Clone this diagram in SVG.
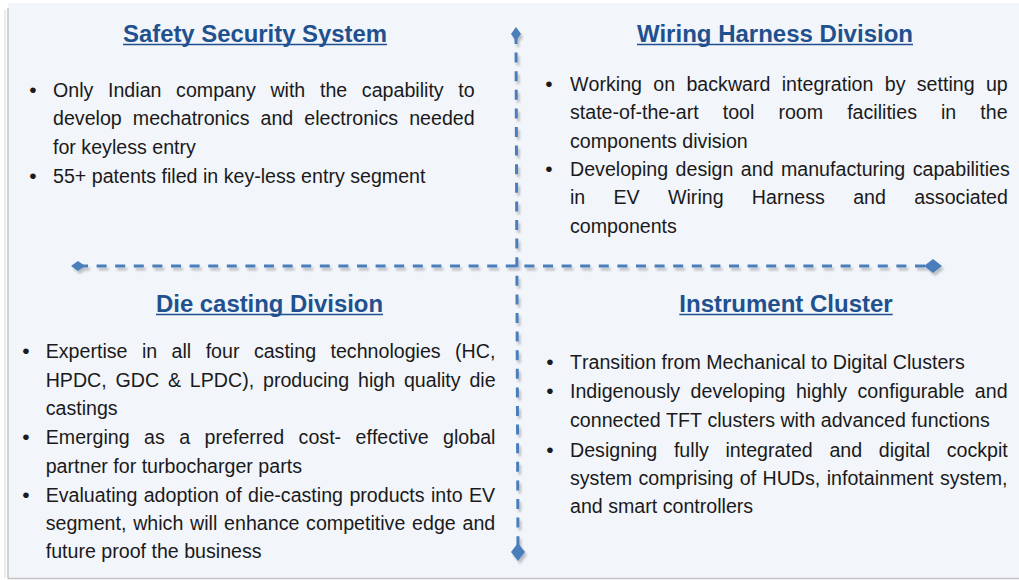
<svg xmlns="http://www.w3.org/2000/svg" width="1019" height="580" viewBox="0 0 1019 580">
<style>
.bg{fill:#f2f5fa}
.edge{stroke:#c3c3c3;stroke-width:1.5;fill:none}
.h{font-family:"Liberation Sans",Arial,sans-serif;font-weight:bold;font-size:23px;fill:#21508e;text-anchor:middle}
.ul{stroke:#21508e;stroke-width:1.6}
.t{font-family:"Liberation Sans",Arial,sans-serif;font-size:21px;fill:#1a1a1a;font-kerning:none}
.b{font-family:"Liberation Sans",Arial,sans-serif;font-size:21px;fill:#1a1a1a;text-anchor:middle}
.dash{stroke:#4a7ebb;stroke-width:3;stroke-dasharray:10 8.6;fill:none}
</style>
<defs>
<filter id="sh" x="-5%" y="-5%" width="110%" height="110%">
<feDropShadow dx="2" dy="3" stdDeviation="1" flood-color="#000" flood-opacity="0.22"/>
</filter>
<marker id="dS" markerUnits="userSpaceOnUse" viewBox="-7 -5 14 10" markerWidth="14" markerHeight="10" refX="0" refY="0" orient="auto">
<path d="M-7 0L0 -5L7 0L0 5Z" fill="#4a7ebb"/>
</marker>
<marker id="dL" markerUnits="userSpaceOnUse" viewBox="-9 -7 18 14" markerWidth="18" markerHeight="14" refX="0" refY="0" orient="auto">
<path d="M-9 0L0 -7L9 0L0 7Z" fill="#4a7ebb"/>
</marker>
</defs>
<rect class="bg" x="8" y="3" width="1011" height="576"/>
<line x1="5" y1="10" x2="5" y2="578" stroke="#e4e4e4" stroke-width="1.5"/>
<line class="edge" x1="8" y1="8" x2="8" y2="578.5"/>
<line class="edge" x1="8" y1="578.5" x2="1019" y2="578.5"/>

<g id="connectors" filter="url(#sh)">
<line class="dash" x1="78" y1="266" x2="933" y2="266" marker-start="url(#dS)" marker-end="url(#dL)"/>
<line class="dash" x1="516" y1="34" x2="518" y2="552" marker-start="url(#dS)" marker-end="url(#dL)"/>
</g>

<g id="safety-security-system">
<text class="h" x="255" y="42" textLength="264" lengthAdjust="spacingAndGlyphs">Safety Security System</text>
<line class="ul" x1="123" y1="44.5" x2="387" y2="44.5"/>
<text class="b" x="33" y="96.5">•</text>
<text class="t" transform="translate(53 96.5) scale(0.935 1)" word-spacing="9.85">Only Indian company with the capability to</text>
<text class="t" transform="translate(53 125) scale(0.935 1)" word-spacing="6">develop mechatronics and electronics needed</text>
<text class="t" transform="translate(53 153.5) scale(0.935 1)">for keyless entry</text>
<text class="b" x="33" y="182.5">•</text>
<text class="t" transform="translate(53 182.5) scale(0.935 1)">55+ patents filed in key-less entry segment</text>
</g>

<g id="wiring-harness-division">
<text class="h" x="775" y="42" textLength="276" lengthAdjust="spacingAndGlyphs">Wiring Harness Division</text>
<line class="ul" x1="637" y1="44.5" x2="913" y2="44.5"/>
<text class="b" x="549" y="90.5">•</text>
<text class="t" transform="translate(570 90.5) scale(0.935 1)" word-spacing="6.3">Working on backward integration by setting up</text>
<text class="t" transform="translate(570 119) scale(0.935 1)" word-spacing="19.9">state-of-the-art tool room facilities in the</text>
<text class="t" transform="translate(570 147.6) scale(0.935 1)">components division</text>
<text class="b" x="549" y="176">•</text>
<text class="t" transform="translate(570 176) scale(0.935 1)" word-spacing="2.1">Developing design and manufacturing capabilities</text>
<text class="t" transform="translate(570 204.3) scale(0.935 1)" word-spacing="24.4">in EV Wiring Harness and associated</text>
<text class="t" transform="translate(570 232.7) scale(0.935 1)">components</text>
</g>

<g id="die-casting-division">
<text class="h" x="269.5" y="311.5" textLength="227" lengthAdjust="spacingAndGlyphs">Die casting Division</text>
<line class="ul" x1="156" y1="314.5" x2="383" y2="314.5"/>
<text class="b" x="26" y="358.3">•</text>
<text class="t" transform="translate(45.7 358.3) scale(0.935 1)" word-spacing="9.6">Expertise in all four casting technologies (HC,</text>
<text class="t" transform="translate(45.7 386.7) scale(0.935 1)" word-spacing="3.6">HPDC, GDC &amp; LPDC), producing high quality die</text>
<text class="t" transform="translate(45.7 415) scale(0.935 1)">castings</text>
<text class="b" x="26" y="444">•</text>
<text class="t" transform="translate(45.7 444) scale(0.935 1)" word-spacing="9.6">Emerging as a preferred cost- effective global</text>
<text class="t" transform="translate(45.7 472.7) scale(0.935 1)">partner for turbocharger parts</text>
<text class="b" x="26" y="501.7">•</text>
<text class="t" transform="translate(45.7 501.7) scale(0.935 1)" word-spacing="1">Evaluating adoption of die-casting products into EV</text>
<text class="t" transform="translate(45.7 530) scale(0.935 1)" word-spacing="1.4">segment, which will enhance competitive edge and</text>
<text class="t" transform="translate(45.7 558.3) scale(0.935 1)">future proof the business</text>
</g>

<g id="instrument-cluster">
<text class="h" x="786" y="311.5" textLength="213.4" lengthAdjust="spacingAndGlyphs">Instrument Cluster</text>
<line class="ul" x1="679.3" y1="314.5" x2="892.7" y2="314.5"/>
<text class="b" x="550" y="369.3">•</text>
<text class="t" transform="translate(570 369.3) scale(0.935 1)">Transition from Mechanical to Digital Clusters</text>
<text class="b" x="550" y="398.3">•</text>
<text class="t" transform="translate(570 398.3) scale(0.935 1)" word-spacing="5.3">Indigenously developing highly configurable and</text>
<text class="t" transform="translate(570 427.3) scale(0.935 1)">connected TFT clusters with advanced functions</text>
<text class="b" x="550" y="456.7">•</text>
<text class="t" transform="translate(570 456.7) scale(0.935 1)" word-spacing="12">Designing fully integrated and digital cockpit</text>
<text class="t" transform="translate(570 485) scale(0.935 1)" word-spacing="1">system comprising of HUDs, infotainment system,</text>
<text class="t" transform="translate(570 513.3) scale(0.935 1)">and smart controllers</text>
</g>
</svg>
